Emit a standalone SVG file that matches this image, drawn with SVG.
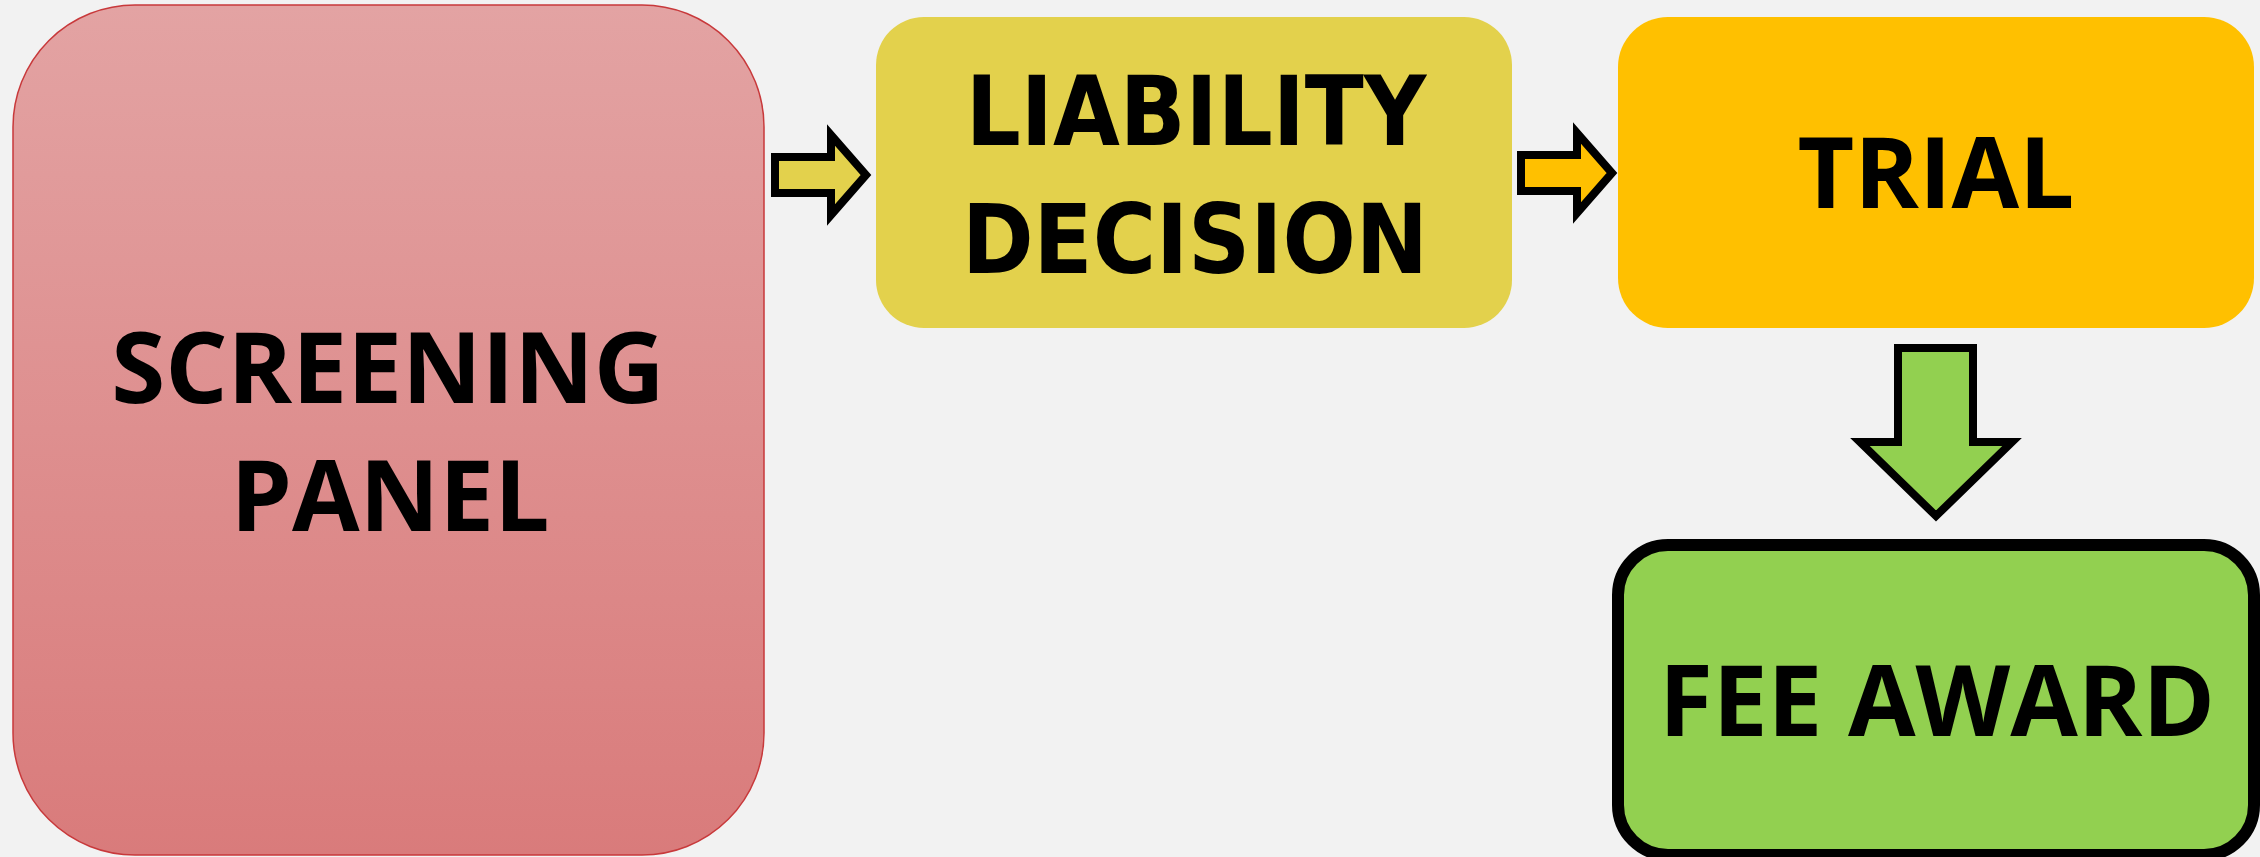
<svg xmlns="http://www.w3.org/2000/svg" width="2260" height="857" viewBox="0 0 2260 857">
  <defs>
    <linearGradient id="pinkGrad" x1="0" y1="0" x2="0" y2="1">
      <stop offset="0" stop-color="#e3a3a3"/>
      <stop offset="1" stop-color="#d97b7b"/>
    </linearGradient>
  </defs>
  <style>
    .lbl { font-family: "Open Sans", "Noto Sans", "Liberation Sans", sans-serif; font-weight: 700; font-size: 98px; fill: #000; text-anchor: middle; }
    .lblc { font-family: "DejaVu Sans Condensed", "DejaVu Sans", sans-serif; font-stretch: condensed; font-weight: 700; font-size: 96px; fill: #000; text-anchor: middle; }
    .arrow { stroke: #000; stroke-width: 8; stroke-linejoin: miter; stroke-miterlimit: 10; }
  </style>
  <rect x="0" y="0" width="2260" height="857" fill="#f2f2f2"/>

  <g id="screening-panel">
    <rect x="13" y="5" width="751" height="850" rx="122" ry="122" fill="url(#pinkGrad)" stroke="#c8393b" stroke-width="1.5"/>
    <text class="lbl" x="388" y="403">SCREENING</text>
    <text class="lbl" x="390" y="531">PANEL</text>
  </g>

  <g id="liability-decision">
    <rect x="876" y="17" width="636" height="311" rx="48" ry="48" fill="#e3d14c"/>
    <text class="lblc" x="1196" y="145">LIABILITY</text>
    <text class="lblc" x="1195" y="273">DECISION</text>
  </g>

  <g id="trial">
    <rect x="1618" y="17" width="636" height="311" rx="50" ry="50" fill="#ffc000"/>
    <text class="lbl" x="1936" y="208">TRIAL</text>
  </g>

  <g id="fee-award">
    <rect x="1618" y="545" width="636" height="310" rx="50" ry="50" fill="#92d050" stroke="#000" stroke-width="12"/>
    <text class="lbl" x="1937" y="736">FEE AWARD</text>
  </g>

  <g id="connectors">
    <polygon class="arrow" fill="#e3d14c" points="775,157 831,157 831,135 866,175 831,215 831,193 775,193"/>
    <polygon class="arrow" fill="#ffc000" points="1521,155 1577,155 1577,133 1612,173 1577,213 1577,191 1521,191"/>
    <polygon class="arrow" fill="#92d050" points="1898,348 1973,348 1973,442 2012,442 1936,516 1860,442 1898,442"/>
  </g>
</svg>
